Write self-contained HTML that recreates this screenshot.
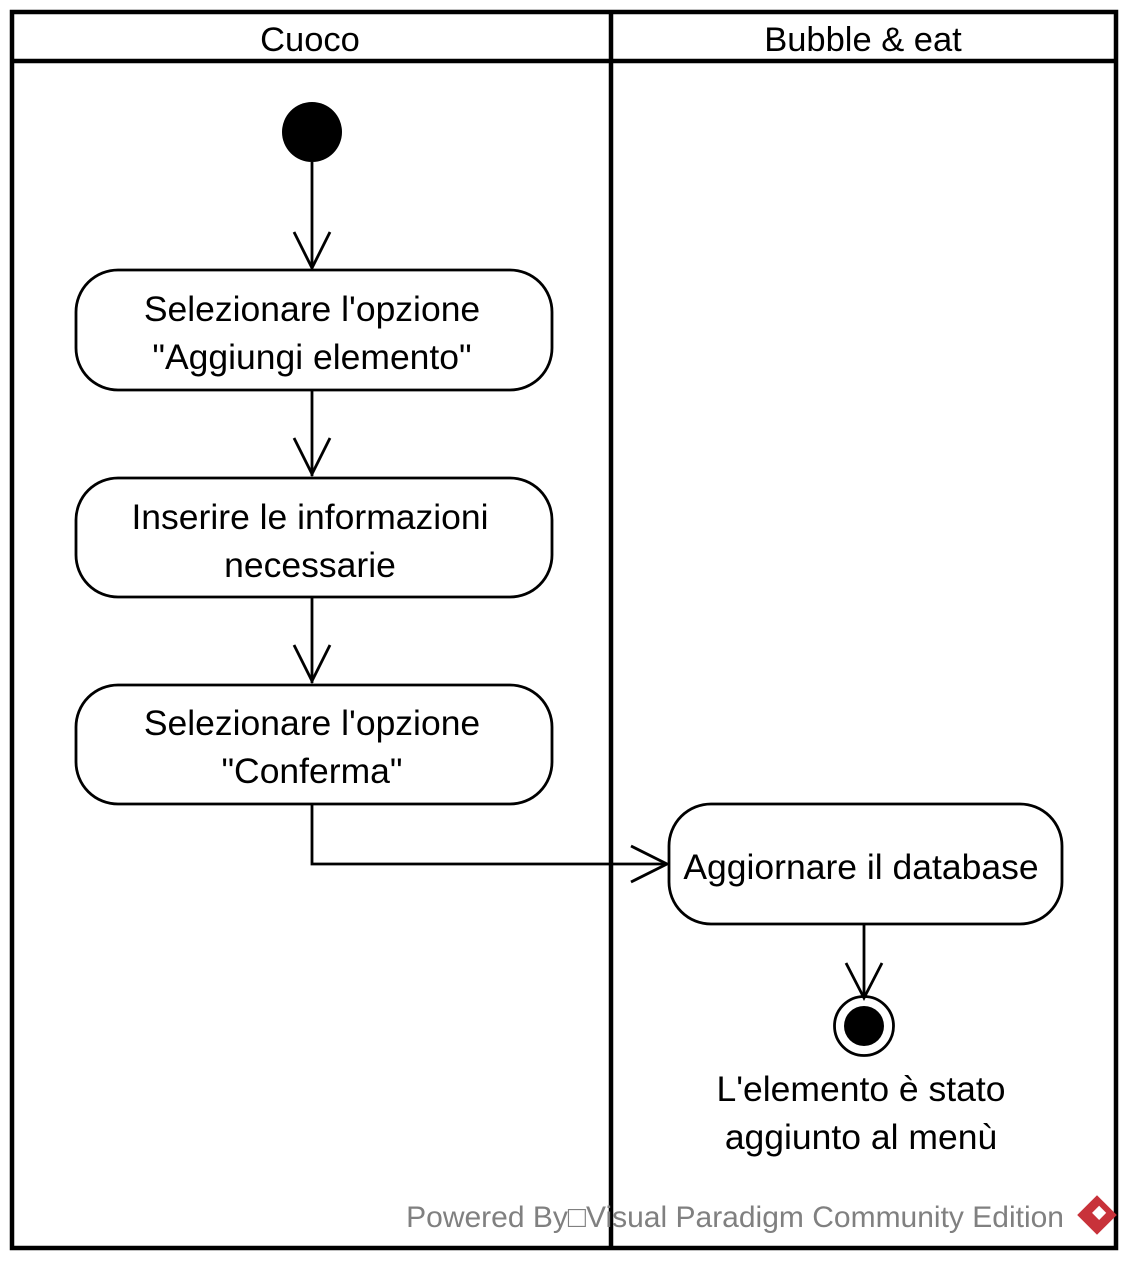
<!DOCTYPE html>
<html><head><meta charset="utf-8"><style>
body{margin:0;background:#fff}
text{font-family:"Liberation Sans",Arial,sans-serif}
</style></head><body>
<svg width="1134" height="1266" viewBox="0 0 1134 1266" xmlns="http://www.w3.org/2000/svg">
<rect x="0" y="0" width="1134" height="1266" fill="#fff"/>
<g fill="none" stroke="#000" stroke-width="4.5">
<rect x="12" y="12" width="1104" height="1236"/>
<line x1="12" y1="61" x2="1116" y2="61"/>
<line x1="611" y1="12" x2="611" y2="1248"/>
</g>
<g font-size="34.5" text-anchor="middle" fill="#000">
<text x="310" y="51">Cuoco</text>
<text x="863" y="51">Bubble &amp; eat</text>
</g>
<circle cx="312" cy="132" r="30" fill="#000"/>
<g fill="none" stroke="#000" stroke-width="2.8">
<rect x="76" y="270" width="476" height="120" rx="42"/>
<rect x="76" y="478" width="476" height="119" rx="42"/>
<rect x="76" y="685" width="476" height="119" rx="42"/>
<rect x="669" y="804" width="393" height="120" rx="42"/>
<line x1="312" y1="162" x2="312" y2="268"/>
<polyline points="294,232 312,268 330,232"/>
<line x1="312" y1="390" x2="312" y2="476"/>
<polyline points="294,438 312,474 330,438"/>
<line x1="312" y1="597" x2="312" y2="683"/>
<polyline points="294,645 312,681 330,645"/>
<polyline points="312,804 312,864 667,864"/>
<polyline points="631,846 667,864 631,882"/>
<line x1="864" y1="924" x2="864" y2="996"/>
<polyline points="846,963 864,998 882,963"/>
<circle cx="864" cy="1026" r="29.5"/>
</g>
<circle cx="864" cy="1026" r="20" fill="#000"/>
<g font-size="35.5" text-anchor="middle" fill="#000">
<text x="312" y="321">Selezionare l'opzione</text>
<text x="312" y="369">"Aggiungi elemento"</text>
<text x="310" y="529">Inserire le informazioni</text>
<text x="310" y="577">necessarie</text>
<text x="312" y="735">Selezionare l'opzione</text>
<text x="312" y="783">"Conferma"</text>
<text x="861" y="879">Aggiornare il database</text>
<text x="861" y="1101">L'elemento è stato</text>
<text x="861" y="1149">aggiunto al menù</text>
</g>
<text x="1064" y="1227" font-size="30" fill="#808080" text-anchor="end">Powered By□Visual Paradigm Community Edition</text>
<g transform="translate(1097,1215) rotate(45)">
<rect x="-14" y="-14" width="28" height="28" fill="#c8323a"/>
<rect x="-5" y="-8" width="10" height="10" fill="#fff"/>
</g>
</svg>
</body></html>
